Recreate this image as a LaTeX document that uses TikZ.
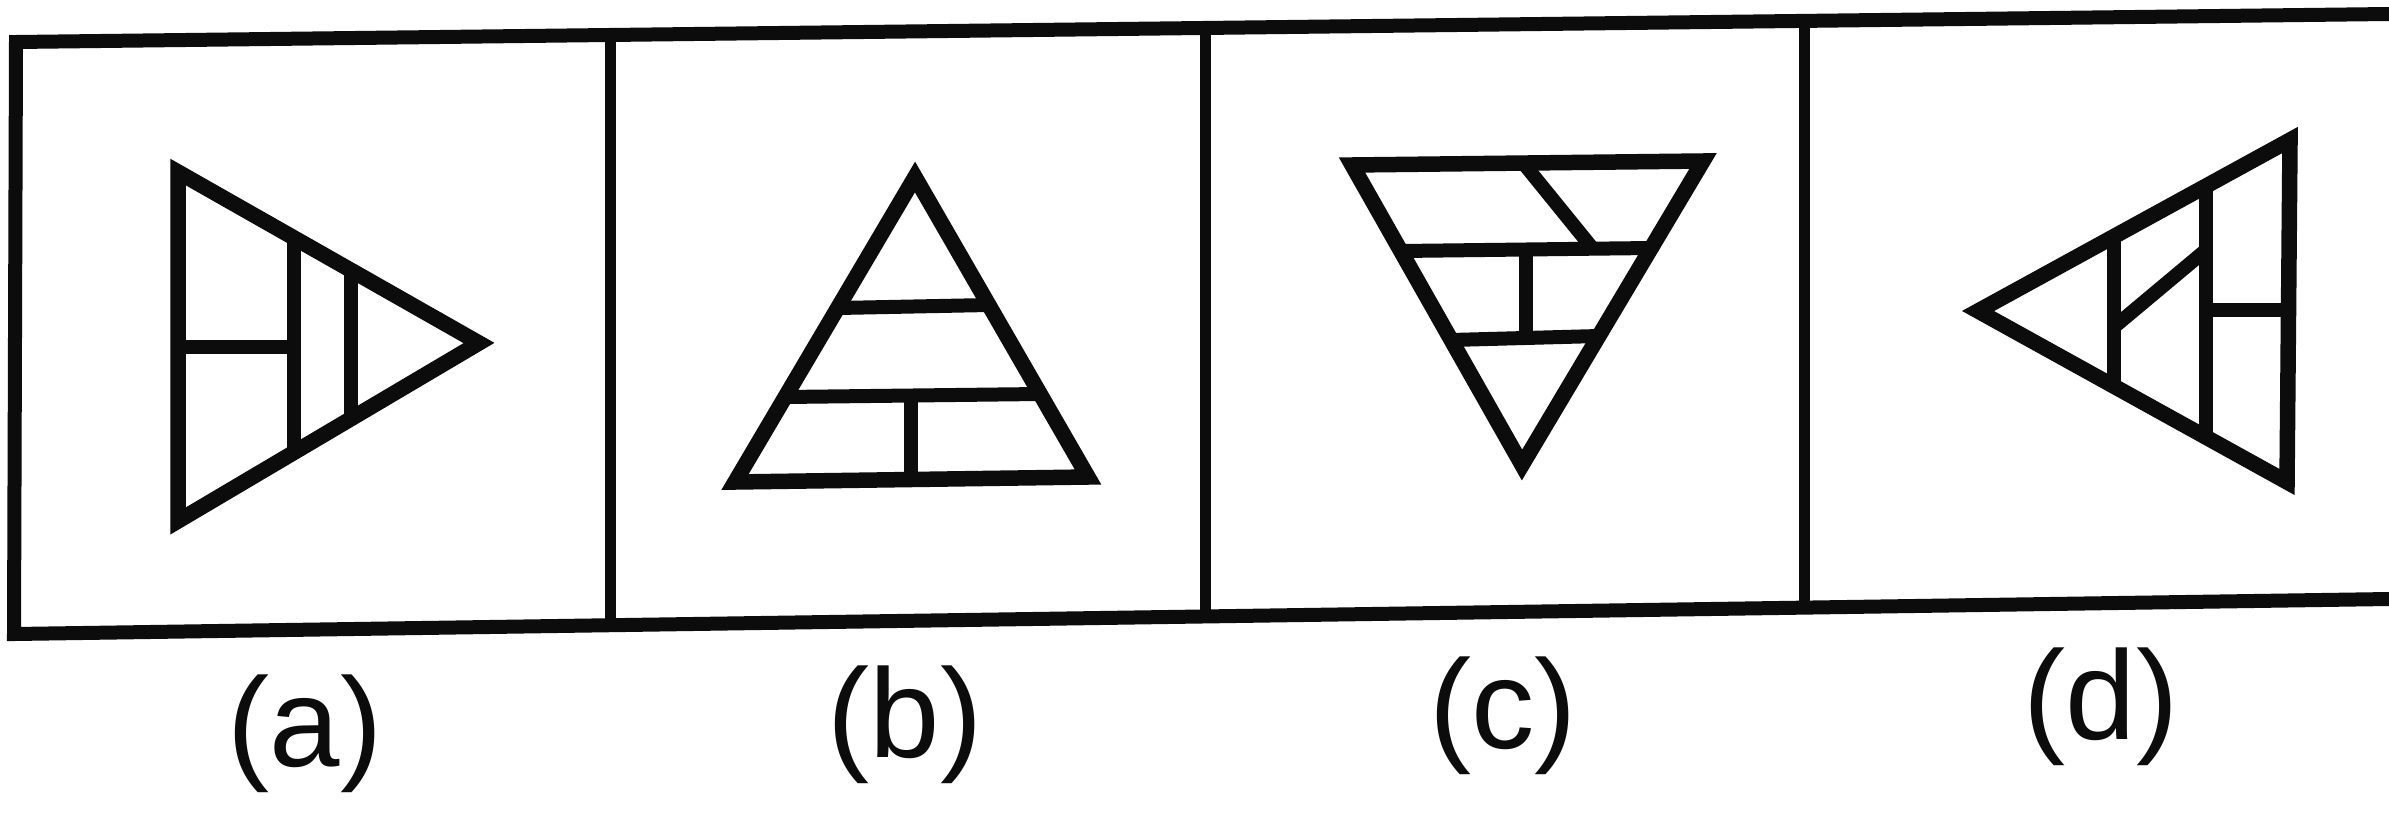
\documentclass[tikz,border=0pt]{standalone}
\usepackage{fontspec}
\setmainfont{Liberation Sans}
\usepackage{xcolor}
\usepackage{tikz}
\usetikzlibrary{calc}
\definecolor{Ink}{HTML}{0C0C0C}

\tikzset{
  box/.style={Ink, line width=1.4mm, line join=miter},
  divider/.style={Ink, line width=1.1mm},
  outline/.style={Ink, line width=1.55mm, line join=miter},
  piece/.style={Ink, line width=1.4mm},
  tag/.style={font=\fontsize{36}{40}\selectfont, text=Ink, inner sep=0pt}
}

\begin{document}
\begin{tikzpicture}[x=0.1mm, y=-0.1mm]
  \useasboundingbox (0,0) rectangle (2389,819);
  \fill[white] (0,0) rectangle (2389,819);
  % Frame, open at the right
  \draw[box] (2389,14) -- (16,42) -- (14,634) -- (2389,599);
  \draw[divider] (610,35)   -- (610,625);
  \draw[divider] (1205,28)  -- (1205,617);
  \draw[divider] (1804,21)  -- (1804,608);
  % (a) pointing right
  \draw[outline] (178,172) -- (479,343) -- (178,521) -- cycle;
  \draw[piece] (178,347) -- (294,347);
  \draw[piece] (294,238) -- (294,452);
  \draw[piece] (351,270) -- (351,419);
  % (b) pointing up
  \draw[outline] (915,177) -- (1088,477) -- (735,482) -- cycle;
  \draw[piece] (838,308) -- (989,305);
  \draw[piece] (785,397) -- (1040,394);
  \draw[piece] (911,396) -- (911,480);
  % (c) pointing down
  \draw[outline] (1352,165) -- (1703,161) -- (1522,465) -- cycle;
  \draw[piece] (1401,251) -- (1651,248);
  \draw[piece] (1451,340) -- (1599,336);
  \draw[piece] (1526,250) -- (1526,338);
  \draw[piece] (1524,164) -- (1593,249);
  % (d) pointing left
  \draw[outline] (2290,140) -- (1978,311) -- (2287,482) -- cycle;
  \draw[piece] (2114,236) -- (2114,386);
  \draw[piece] (2206,186) -- (2206,437);
  \draw[piece] (2206,310) -- (2288,310);
  \draw[piece] (2114,327) -- (2206,250);
  % Labels
  \node[tag] (la) at (305,734)  {(a)};
  \node[tag] (lb) at (905,725)  {(b)};
  \node[tag] (lc) at (1503,716) {(c)};
  \node[tag] (ld) at (2101,707) {(d)};
\end{tikzpicture}
\end{document}
